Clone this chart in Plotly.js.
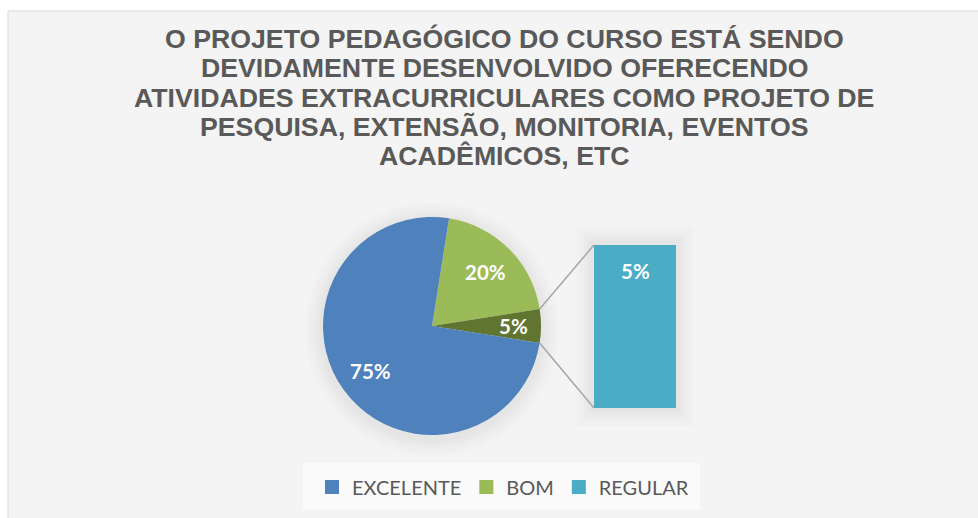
<!DOCTYPE html>
<html>
<head>
<meta charset="utf-8">
<script src="https://cdn.plot.ly/plotly-3.0.1.min.js"></script>
<style>
html,body{margin:0;padding:0;background:#ffffff;}
#chart{width:978px;height:518px;}
</style>
</head>
<body>
<div id="chart"></div>
<script>
// ---- data ----
const categories = ['EXCELENTE', 'BOM', 'REGULAR'];
const percents = [75, 20, 5];
const pieOrder = [1, 2, 0];            // BOM, (REGULAR as "other"), EXCELENTE clockwise
const colors = ['#4F81BD', '#9BBB59', '#4BACC6'];
const otherColor = '#5F7530';
const titleLines = [
  'O PROJETO PEDAGÓGICO DO CURSO ESTÁ SENDO',
  'DEVIDAMENTE DESENVOLVIDO OFERECENDO',
  'ATIVIDADES EXTRACURRICULARES COMO PROJETO DE',
  'PESQUISA, EXTENSÃO, MONITORIA, EVENTOS',
  'ACADÊMICOS, ETC'
];

// ---- geometry ----
const W = 978, H = 518;
const cx = 432, cy = 326, r = 109;
const rotation = 9;
const barX = [594, 676], barY = [245, 408];

const pieValues = pieOrder.map(i => percents[i]);
const pieLabels = pieOrder.map(i => categories[i]);
const pieColors = pieOrder.map(i => i === 2 ? otherColor : colors[i]);

const total = pieValues.reduce((a, b) => a + b, 0);
let cum = 0;
const angles = pieValues.map(v => { const a0 = rotation + cum / total * 360; cum += v; return [a0, rotation + cum / total * 360]; });
const px = (a, rr) => cx + rr * Math.sin(a * Math.PI / 180);
const py = (a, rr) => cy - rr * Math.cos(a * Math.PI / 180);

const pieTrace = {
  type: 'pie', values: pieValues, labels: pieLabels, sort: false,
  direction: 'clockwise', rotation: rotation,
  marker: { colors: pieColors, line: { width: 0 } },
  textinfo: 'none', hoverinfo: 'label+percent', showlegend: false,
  domain: { x: [(cx - r) / W, (cx + r) / W], y: [1 - (cy + r) / H, 1 - (cy - r) / H] }
};

const barTrace = {
  type: 'bar', x: [categories[2]], y: [percents[2]], marker: { color: colors[2] },
  width: 1, showlegend: false, xaxis: 'x', yaxis: 'y', hoverinfo: 'y'
};

const legendTraces = categories.map((c, i) => ({
  type: 'scatter', mode: 'markers', x: [null], y: [null], name: c,
  marker: { symbol: 'square', size: 14, color: colors[i] }, xaxis: 'x', yaxis: 'y'
}));

const labelFont = { family: 'Lato', size: 20.5, color: '#ffffff', weight: 700 };
const annotations = pieValues.map((v, i) => {
  const mid = (angles[i][0] + angles[i][1]) / 2;
  const rr = i === 1 ? 0.75 * r : 0.7 * r;
  return {
    xref: 'paper', yref: 'paper', x: px(mid, rr) / W, y: 1 - py(mid, rr) / H,
    xanchor: 'center', yanchor: 'middle',
    text: v + '%', showarrow: false, font: labelFont
  };
});
annotations.push({
  xref: 'x', yref: 'y', x: categories[2], y: percents[2], yshift: -26, xanchor: 'center', yanchor: 'middle',
  text: percents[2] + '%', showarrow: false, font: labelFont
});
titleLines.forEach((t, i) => {
  annotations.push({
    xref: 'paper', yref: 'paper', x: 504 / W, y: 1 - (39 + i * 29.3) / H, xanchor: 'center', yanchor: 'middle',
    text: t, showarrow: false,
    font: { family: 'Liberation Sans, Arial, sans-serif', size: 26.7, color: '#595959', weight: 700 }
  });
});

const oa = angles[1];
const shapes = [
  { type: 'rect', xref: 'paper', yref: 'paper', x0: 8 / W, x1: 1.01, y0: -0.01, y1: 1 - 11 / H,
    fillcolor: '#f4f4f4', line: { color: '#d9d9d9', width: 1 }, layer: 'below' }
];
// soft halo behind the pie and the bar
[18, 14, 10, 7, 4].forEach(d => {
  shapes.push({ type: 'circle', xref: 'paper', yref: 'paper',
    x0: (cx - r - d) / W, x1: (cx + r + d) / W, y0: 1 - (cy + r + d + 3) / H, y1: 1 - (cy - r - d + 3) / H,
    fillcolor: 'rgba(0,0,0,0.012)', line: { width: 0 }, layer: 'below' });
  shapes.push({ type: 'rect', xref: 'paper', yref: 'paper',
    x0: (barX[0] - d) / W, x1: (barX[1] + d) / W, y0: 1 - (barY[1] + d) / H, y1: 1 - (barY[0] - d) / H,
    fillcolor: 'rgba(0,0,0,0.01)', line: { width: 0 }, layer: 'below' });
});
shapes.push(
  { type: 'rect', xref: 'paper', yref: 'paper', x0: 303 / W, x1: 700 / W, y0: 1 - 510 / H, y1: 1 - 463 / H,
    fillcolor: '#fafafa', line: { width: 0 }, layer: 'below' },
  { type: 'line', xref: 'paper', yref: 'paper', x0: px(oa[0], r) / W, y0: 1 - py(oa[0], r) / H,
    x1: barX[0] / W, y1: 1 - barY[0] / H, line: { color: '#a6a6a6', width: 1.5 } },
  { type: 'line', xref: 'paper', yref: 'paper', x0: px(oa[1], r) / W, y0: 1 - py(oa[1], r) / H,
    x1: barX[0] / W, y1: 1 - barY[1] / H, line: { color: '#a6a6a6', width: 1.5 } }
);

const layout = {
  width: W, height: H, margin: { l: 0, r: 0, t: 0, b: 0 },
  paper_bgcolor: '#ffffff', plot_bgcolor: 'rgba(0,0,0,0)',
  xaxis: { type: 'category', domain: [barX[0] / W, barX[1] / W], range: [-0.5, 0.5], visible: false, fixedrange: true },
  yaxis: { domain: [1 - barY[1] / H, 1 - barY[0] / H], range: [0, percents[2]], visible: false, fixedrange: true },
  showlegend: true,
  legend: { orientation: 'h', x: 503 / W, xanchor: 'center', y: 1 - 487 / H, yanchor: 'middle',
    font: { family: 'Lato', size: 20, color: '#595959' }, bgcolor: 'rgba(0,0,0,0)', itemclick: false },
  bargap: 0, shapes: shapes, annotations: annotations
};

Plotly.newPlot('chart', [pieTrace, barTrace].concat(legendTraces), layout, { displayModeBar: false, staticPlot: true });
</script>
</body>
</html>
